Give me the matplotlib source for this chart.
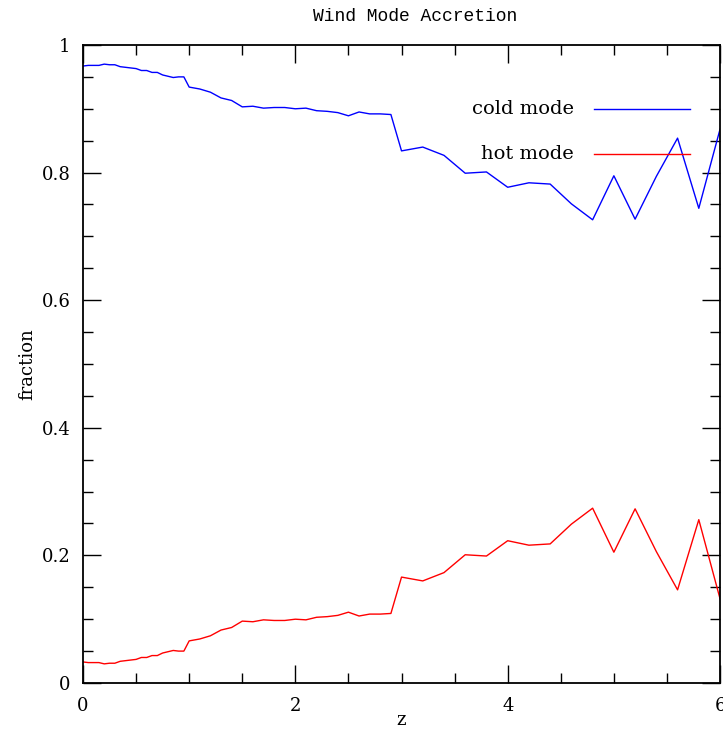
import numpy as np
import matplotlib
matplotlib.use("Agg")
import matplotlib.pyplot as plt
from matplotlib.ticker import MultipleLocator, FormatStrFormatter

# Redshift grid: fine steps at low z, coarser at high z
z = [0.00, 0.05, 0.10, 0.15, 0.20, 0.25, 0.30, 0.35, 0.40, 0.45,
     0.50, 0.55, 0.60, 0.65, 0.70, 0.75, 0.80, 0.85, 0.90, 0.95,
     1.0, 1.1, 1.2, 1.3, 1.4, 1.5, 1.6, 1.7, 1.8, 1.9,
     2.0, 2.1, 2.2, 2.3, 2.4, 2.5, 2.6, 2.7, 2.8, 2.9,
     3.0, 3.2, 3.4, 3.6, 3.8, 4.0, 4.2, 4.4, 4.6, 4.8,
     5.0, 5.2, 5.4, 5.6, 5.8, 6.0]

cold_mode = [0.967, 0.968, 0.968, 0.968, 0.970, 0.969, 0.969, 0.966, 0.965, 0.964,
             0.963, 0.960, 0.960, 0.957, 0.957, 0.953, 0.951, 0.949, 0.950, 0.950,
             0.934, 0.931, 0.926, 0.917, 0.913, 0.903, 0.904, 0.901, 0.902, 0.902,
             0.900, 0.901, 0.897, 0.896, 0.894, 0.889, 0.895, 0.892, 0.892, 0.891,
             0.834, 0.840, 0.827, 0.799, 0.801, 0.777, 0.784, 0.782, 0.751, 0.726,
             0.795, 0.727, 0.794, 0.854, 0.744, 0.868]

hot_mode = [0.033, 0.032, 0.032, 0.032, 0.030, 0.031, 0.031, 0.034, 0.035, 0.036,
            0.037, 0.040, 0.040, 0.043, 0.043, 0.047, 0.049, 0.051, 0.050, 0.050,
            0.066, 0.069, 0.074, 0.083, 0.087, 0.097, 0.096, 0.099, 0.098, 0.098,
            0.100, 0.099, 0.103, 0.104, 0.106, 0.111, 0.105, 0.108, 0.108, 0.109,
            0.166, 0.160, 0.173, 0.201, 0.199, 0.223, 0.216, 0.218, 0.249, 0.274,
            0.205, 0.273, 0.206, 0.146, 0.256, 0.132]

serif = ["DejaVu Serif"]

fig = plt.figure(figsize=(7.23, 7.29), dpi=100)
ax = fig.add_axes([0.1148, 0.0631, 0.8811, 0.8752])

ax.plot(z, cold_mode, color="#0000ff", lw=1.0)
ax.plot(z, hot_mode, color="#ff0000", lw=1.0)

ax.set_xlim(0, 6)
ax.set_ylim(0, 1)

ax.xaxis.set_major_locator(MultipleLocator(2))
ax.xaxis.set_minor_locator(MultipleLocator(0.5))
ax.yaxis.set_major_locator(MultipleLocator(0.2))
ax.yaxis.set_minor_locator(MultipleLocator(0.05))
ax.xaxis.set_major_formatter(FormatStrFormatter("%g"))
ax.yaxis.set_major_formatter(FormatStrFormatter("%g"))

ax.tick_params(which="both", direction="in", top=True, right=True,
               color="black", labelsize=13)
ax.tick_params(axis="x", which="major", pad=10)
ax.tick_params(axis="y", which="major", pad=9)
ax.tick_params(which="major", length=13, width=1.0)
ax.tick_params(which="minor", length=7, width=1.0)
for lab in ax.get_xticklabels() + ax.get_yticklabels():
    lab.set_family(serif)
for sp in ax.spines.values():
    sp.set_linewidth(1.3)

ax.set_xlabel("z", family=serif, fontsize=13, labelpad=-3)
ax.set_ylabel("fraction", family=serif, fontsize=13, labelpad=4)
fig.text(0.574, 0.978, "Wind Mode Accretion", ha="center", va="center",
         family=["Liberation Mono"], fontsize=13)

# Key: label text with a sample line to its right
key = [("cold mode", "#0000ff", 0.900), ("hot mode", "#ff0000", 0.829)]
for text, col, yk in key:
    ax.text(0.771, yk, text, transform=ax.transAxes, ha="right", va="center",
            family=serif, fontsize=14)
    ax.plot([0.802, 0.953], [yk, yk], transform=ax.transAxes, color=col, lw=1.0)

fig.savefig("out.png", dpi=100)
